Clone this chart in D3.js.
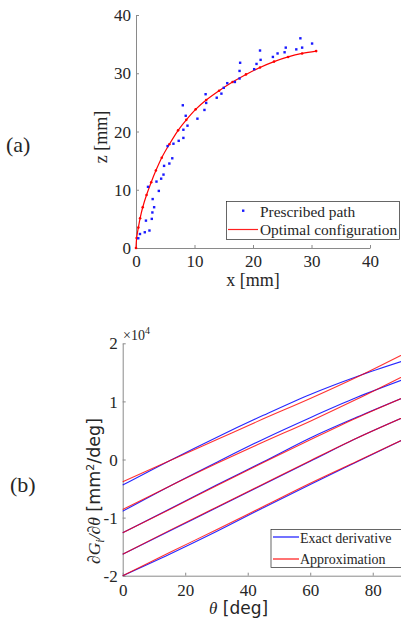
<!DOCTYPE html>
<html>
<head>
<meta charset="utf-8">
<script src="https://cdn.jsdelivr.net/npm/d3@7"></script>
<style>
  body { margin: 0; background: #fff; }
  svg { display: block; }
  .serif { font-family: "Liberation Serif", "Times New Roman", serif; fill: #262626; }
  .sans { font-family: "DejaVu Sans", sans-serif; fill: #262626; }
</style>
</head>
<body>
<div id="chart"></div>
<script>
var width = 401;
var height = 621;

// (a) prescribed path [x mm, z mm]
var pathX = [0.39, 0.68, 1.5, 2.3, 1.7, 2.7, 2.8, 3.1, 2.85, 2.05, 3.9, 3.5, 4.3, 4.7, 4.8, 5.7, 6.2,
             5.4, 6.4, 7.3, 8.1, 8.1, 8.8, 8.5, 8.0, 10.5, 11.7, 12.0, 11.9, 13.8, 14.6, 15.0, 15.6,
             16.9, 17.7, 17.7, 17.8, 20.2, 20.6, 21.3, 21.2, 23.4, 24.2, 25.4, 25.6, 27.4, 28.4, 28.1, 30.1];
var pathZ = [1.67, 2.4, 2.7, 3.0, 4.7, 5.0, 6.1, 7.0, 8.4, 10.5, 9.8, 11.4, 11.9, 12.6, 14.1, 14.5, 15.4,
             17.5, 17.9, 18.4, 18.9, 20.3, 21.0, 22.7, 24.5, 22.2, 23.7, 24.9, 26.4, 25.8, 26.5, 27.5, 28.3,
             28.5, 29.1, 30.4, 31.8, 30.7, 31.6, 32.3, 33.9, 32.8, 33.4, 33.6, 34.4, 34.1, 34.4, 36.0, 35.1];

// (a) optimal configuration
var optX = [0, 0.11, 0.4, 0.7, 1.15, 1.8, 2.6, 3.4, 4.4, 5.7, 7.2, 8.6, 10.2, 12.0, 14.2, 16.5, 18.8, 21.2, 23.6, 26.0, 28.4, 30.8];
var optZ = [0, 1.7, 3.5, 5.1, 7.0, 9.1, 11.3, 13.3, 15.5, 17.8, 20.2, 22.0, 23.8, 25.4, 27.0, 28.5, 29.8, 31.0, 32.0, 32.8, 33.4, 33.8];

var aTicks = [0, 10, 20, 30, 40];

// (b) derivative curves, theta in deg
var theta = [0, 15, 30, 45, 60, 75, 90];
var exact = [
  [-4400, -200, 3800, 7600, 11200, 14300, 17000],
  [-8900, -4600, -500, 3500, 7200, 10700, 13800],
  [-12600, -8500, -4400, -400, 3700, 7300, 10700],
  [-16300, -12300, -8300, -4300, -300, 3700, 7300],
  [-20000, -16300, -12400, -8300, -4300, -400, 3500]
];
var approx = [
  [-3850, -200, 3400, 7000, 10500, 14200, 18200],
  [-8600, -4600, -700, 3000, 6600, 10400, 14400],
  [-12600, -8600, -4500, -500, 3400, 7200, 10700],
  [-16300, -12200, -8200, -4200, -200, 3700, 7300],
  [-20000, -16000, -12100, -8100, -4100, -300, 3500]
];
var bXTicks = [0, 20, 40, 60, 80];
var bYTicks = [-20000, -10000, 0, 10000, 20000];

var svg = d3.select("#chart").append("svg")
    .attr("width", width)
    .attr("height", height);

function styleAxis(g) {
  g.attr("font-family", null);
  g.select(".domain").attr("stroke", "#8a8a8a").attr("stroke-width", 1);
  g.selectAll(".tick line").attr("stroke", "#8a8a8a").attr("stroke-width", 1);
  g.selectAll("text").attr("class", "serif").attr("fill", "#262626").attr("font-size", 17);
}

// ---------- (a) ----------
var xA = d3.scaleLinear().domain([0, 40]).range([136, 370]);
var zA = d3.scaleLinear().domain([0, 40]).range([248, 15]);

var gxA = svg.append("g")
    .attr("transform", "translate(0," + zA(0) + ")")
    .call(d3.axisBottom(xA).tickValues(aTicks).tickFormat(d3.format("d")).tickSizeInner(-3).tickSizeOuter(0));
styleAxis(gxA);
gxA.selectAll("text").attr("y", 19).attr("dy", 0);

var gzA = svg.append("g")
    .attr("transform", "translate(" + xA(0) + ",0)")
    .call(d3.axisLeft(zA).tickValues(aTicks).tickFormat(d3.format("d")).tickSizeInner(-3).tickSizeOuter(0));
styleAxis(gzA);
gzA.selectAll("text").attr("x", -5).attr("dy", "0.33em");

var optPts = optX.map(function(d, i) { return [d, optZ[i]]; });
svg.append("path")
    .datum(optPts)
    .attr("fill", "none")
    .attr("stroke", "#ff0000")
    .attr("stroke-width", 1.2)
    .attr("d", d3.line().x(function(d) { return xA(d[0]); }).y(function(d) { return zA(d[1]); }).curve(d3.curveCatmullRom));

svg.append("g").selectAll("circle")
    .data(optPts)
    .enter()
    .append("circle")
    .attr("cx", function(d) { return xA(d[0]); })
    .attr("cy", function(d) { return zA(d[1]); })
    .attr("r", 1.3)
    .attr("fill", "#ff0000");

svg.append("g").selectAll("rect")
    .data(pathX.map(function(d, i) { return [d, pathZ[i]]; }))
    .enter()
    .append("rect")
    .attr("x", function(d) { return xA(d[0]) - 1.2; })
    .attr("y", function(d) { return zA(d[1]) - 1.2; })
    .attr("width", 2.4)
    .attr("height", 2.4)
    .attr("fill", "#1a1aff");

// legend (a)
var legA = svg.append("g");
legA.append("rect").attr("x", 226.5).attr("y", 201.5).attr("width", 173).attr("height", 38)
    .attr("fill", "#fff").attr("stroke", "#262626").attr("stroke-width", 0.7);
legA.append("rect").attr("x", 242).attr("y", 209.5).attr("width", 2.4).attr("height", 2.4).attr("fill", "#1a1aff");
legA.append("line").attr("x1", 228).attr("x2", 258).attr("y1", 229.5).attr("y2", 229.5)
    .attr("stroke", "#ff2020").attr("stroke-width", 1.2);
legA.append("text").attr("class", "serif").attr("x", 260).attr("y", 216.5).attr("font-size", 15.4).text("Prescribed path");
legA.append("text").attr("class", "serif").attr("x", 260).attr("y", 235).attr("font-size", 15.4).text("Optimal configuration");

svg.append("text").attr("class", "serif").attr("x", 253).attr("y", 286)
    .attr("text-anchor", "middle").attr("font-size", 18).text("x [mm]");
svg.append("text").attr("class", "serif").attr("font-size", 18)
    .attr("text-anchor", "middle")
    .attr("transform", "translate(107,137) rotate(-90)")
    .text("z [mm]");
svg.append("text").attr("class", "serif").attr("x", 6).attr("y", 152).attr("font-size", 22).text("(a)");

// ---------- (b) ----------
var xB = d3.scaleLinear().domain([0, 90]).range([122.7, 404]);
var yB = d3.scaleLinear().domain([-20000, 20000]).range([575.7, 343.3]);

var gxB = svg.append("g")
    .attr("transform", "translate(0," + yB(-20000) + ")")
    .call(d3.axisBottom(xB).tickValues(bXTicks).tickFormat(d3.format("d")).tickSizeInner(-3).tickSizeOuter(0));
styleAxis(gxB);
gxB.selectAll("text").attr("y", 20).attr("dy", 0);

var gyB = svg.append("g")
    .attr("transform", "translate(" + xB(0) + ",0)")
    .call(d3.axisLeft(yB).tickValues(bYTicks).tickFormat(function(d) { return d / 10000; }).tickSizeInner(-3).tickSizeOuter(0));
styleAxis(gyB);
gyB.selectAll("text").attr("x", -5).attr("dy", "0.33em");

var lineB = d3.line()
    .x(function(d, i) { return xB(theta[i]); })
    .y(function(d) { return yB(d); })
    .curve(d3.curveMonotoneX);

svg.append("g").selectAll("path")
    .data(exact)
    .enter()
    .append("path")
    .attr("fill", "none")
    .attr("stroke", "#0000ff")
    .attr("stroke-opacity", 0.85)
    .attr("stroke-width", 1.1)
    .attr("d", lineB);

svg.append("g").selectAll("path")
    .data(approx)
    .enter()
    .append("path")
    .attr("fill", "none")
    .attr("stroke", "#ff0000")
    .attr("stroke-opacity", 0.8)
    .attr("stroke-width", 1.1)
    .attr("d", lineB);

// legend (b)
var legB = svg.append("g");
legB.append("rect").attr("x", 271).attr("y", 529.5).attr("width", 132).attr("height", 38)
    .attr("fill", "#fff").attr("stroke", "#262626").attr("stroke-width", 0.7);
legB.append("line").attr("x1", 273).attr("x2", 299).attr("y1", 537).attr("y2", 537)
    .attr("stroke", "#0000ff").attr("stroke-width", 1.1);
legB.append("line").attr("x1", 273).attr("x2", 299).attr("y1", 559).attr("y2", 559)
    .attr("stroke", "#ff0000").attr("stroke-width", 1.1);
legB.append("text").attr("class", "serif").attr("x", 300).attr("y", 543).attr("font-size", 14).text("Exact derivative");
legB.append("text").attr("class", "serif").attr("x", 300).attr("y", 564).attr("font-size", 14).text("Approximation");

// x10^4 multiplier
var mult = svg.append("text").attr("class", "serif").attr("x", 123).attr("y", 340).attr("font-size", 14);
mult.append("tspan").text("\u00d710");
mult.append("tspan").attr("font-size", 10).attr("dy", -6).text("4");

// axis titles (b)
var xt = svg.append("text").attr("x", 209).attr("y", 614).attr("font-size", 17);
xt.append("tspan").attr("class", "serif").attr("font-style", "italic").text("\u03b8");
xt.append("tspan").attr("class", "sans").text(" [deg]");

var yt = svg.append("text").attr("font-size", 17.5).attr("text-anchor", "middle")
    .attr("transform", "translate(100,491) rotate(-90)");
yt.append("tspan").attr("class", "serif").attr("font-style", "italic").text("\u2202G");
yt.append("tspan").attr("class", "serif").attr("font-style", "italic").attr("font-size", 12).attr("dy", 4).text("i");
yt.append("tspan").attr("class", "serif").attr("font-style", "italic").attr("dy", -4).text("/\u2202\u03b8");
yt.append("tspan").attr("class", "sans").text(" [mm");
yt.append("tspan").attr("class", "sans").attr("font-size", 11).attr("dy", -6).text("2");
yt.append("tspan").attr("class", "sans").attr("dy", 6).text("/deg]");

svg.append("text").attr("class", "serif").attr("x", 10).attr("y", 492).attr("font-size", 22).text("(b)");
</script>
</body>
</html>
